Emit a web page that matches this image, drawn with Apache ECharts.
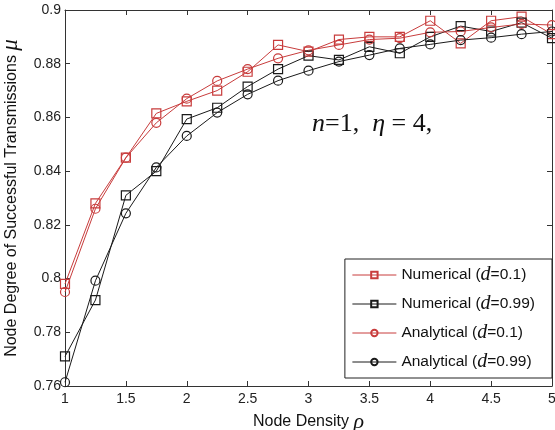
<!DOCTYPE html>
<html><head><meta charset="utf-8">
<script src="https://cdn.jsdelivr.net/npm/echarts@6/dist/echarts.min.js"></script>
<style>html,body{margin:0;padding:0;background:#fff}#c{width:555px;height:430px}</style>
</head><body><div id="c"></div>
<script>
var xValues = [1,1.25,1.5,1.75,2,2.25,2.5,2.75,3,3.25,3.5,3.75,4,4.25,4.5,4.75,5];
var numD01 = [0.798,0.828,0.845,0.8615,0.866,0.870,0.877,0.887,0.8845,0.889,0.890,0.890,0.896,0.8876,0.896,0.8975,0.891];
var numD099 = [0.771,0.792,0.831,0.840,0.8594,0.8636,0.8715,0.878,0.883,0.8814,0.8863,0.8839,0.890,0.894,0.892,0.8953,0.8895];
var anaD01 = [0.795,0.826,0.845,0.858,0.867,0.8736,0.878,0.882,0.885,0.887,0.889,0.8895,0.8917,0.892,0.8935,0.8948,0.8944];
var anaD099 = [0.7614,0.7992,0.8243,0.8414,0.8531,0.8618,0.8686,0.8737,0.8774,0.8808,0.8832,0.8857,0.8872,0.8888,0.8897,0.891,0.892];
var seriesNames = ['Numerical (d=0.1)','Numerical (d=0.99)','Analytical (d=0.1)','Analytical (d=0.99)'];
var xTicks = [1,1.5,2,2.5,3,3.5,4,4.5,5];
var yTicks = [0.76,0.78,0.8,0.82,0.84,0.86,0.88,0.9];

var RED = '#c83c3c', BLK = '#1a1a1a', AX = '#333';
function pairs(ys){ return xValues.map(function(x,i){ return [x, ys[i]]; }); }
function mk(name, ys, color, sym){
  return {
    name: name, type: 'line', data: pairs(ys), xAxisIndex: 0, yAxisIndex: 0,
    symbol: sym, symbolSize: 9, showSymbol: true,
    lineStyle: {color: color, width: 1},
    itemStyle: {color: 'rgba(255,255,255,0)', borderColor: color, borderWidth: 1.2},
    emphasis: {disabled: true}, animation: false, z: 3
  };
}
var fontSans = 'Arial, "Liberation Sans", Helvetica, sans-serif';
var fontSerif = '"Times New Roman", "Liberation Serif", serif';

var chart = echarts.init(document.getElementById('c'), null, {renderer: 'canvas'});
chart.setOption({
  animation: false,
  backgroundColor: '#fff',
  grid: {left: 65, right: 3, top: 10, bottom: 44, containLabel: false, outerBoundsMode: 'none'},
  xAxis: [{
    type: 'value', min: 1, max: 5, interval: 0.5, position: 'bottom',
    axisLine: {show: true, lineStyle: {color: AX, width: 1}},
    axisTick: {show: true, inside: true, length: 5, lineStyle: {color: AX}},
    axisLabel: {color: '#222', fontFamily: fontSans, fontSize: 14, margin: 6,
      formatter: function(v){ return String(v); }},
    splitLine: {show: false},
    name: '{t|Node Density }{g|ρ}', nameLocation: 'middle', nameGap: 21,
    nameTextStyle: {rich: {t: {fontFamily: fontSans, fontSize: 16, color: '#111'},
      g: {fontFamily: fontSerif, fontStyle: 'italic', fontSize: 22, color: '#111'}}}
  },{
    type: 'value', min: 1, max: 5, interval: 0.5, position: 'top',
    axisLine: {show: true, lineStyle: {color: AX, width: 1}},
    axisTick: {show: true, inside: true, length: 5, lineStyle: {color: AX}},
    axisLabel: {show: false}, splitLine: {show: false}
  }],
  yAxis: [{
    type: 'value', min: 0.76, max: 0.9, interval: 0.02, position: 'left',
    axisLine: {show: true, lineStyle: {color: AX, width: 1}},
    axisTick: {show: true, inside: true, length: 5, lineStyle: {color: AX}},
    axisLabel: {color: '#222', fontFamily: fontSans, fontSize: 14, margin: 4,
      formatter: function(v){ return String(+v.toFixed(2)); }},
    splitLine: {show: false},
    name: '{t|Node Degree of Successful Transmissions }{g|μ}', nameLocation: 'middle', nameGap: 40,
    nameRotate: 90,
    nameTextStyle: {rich: {t: {fontFamily: fontSans, fontSize: 16, color: '#111'},
      g: {fontFamily: fontSerif, fontStyle: 'italic', fontSize: 23, color: '#111'}}}
  },{
    type: 'value', min: 0.76, max: 0.9, interval: 0.02, position: 'right',
    axisLine: {show: true, lineStyle: {color: AX, width: 1}},
    axisTick: {show: true, inside: true, length: 5, lineStyle: {color: AX}},
    axisLabel: {show: false}, splitLine: {show: false}
  }],
  legend: {
    data: seriesNames, orient: 'vertical', right: 3, top: 259,
    backgroundColor: '#fff', borderColor: '#222', borderWidth: 1,
    padding: [6, 17, 6, 7], itemGap: 9, itemWidth: 44, itemHeight: 8,
    selectedMode: false,
    lineStyle: {width: 1},
    formatter: function(n){
      var m = n.match(/^(\w+) \(d(=[\d.]+)\)$/);
      return '{a|' + m[1] + ' (}{d|d}{a|' + m[2] + ')}';
    },
    textStyle: {rich: {
      a: {fontFamily: fontSans, fontSize: 15.5, color: '#111'},
      d: {fontFamily: fontSerif, fontStyle: 'italic', fontSize: 20, color: '#111'}
    }}
  },
  graphic: [{
    type: 'text', left: 312, top: 111, z: 10,
    style: {text: '{i|n}{r|=1,  }{i|η}{r| = 4,}', rich: {
      i: {fontFamily: fontSerif, fontStyle: 'italic', fontSize: 26, fill: '#111'},
      r: {fontFamily: fontSerif, fontSize: 26, fill: '#111'}
    }}
  }],
  series: [
    mk(seriesNames[0], numD01, RED, 'rect'),
    mk(seriesNames[1], numD099, BLK, 'rect'),
    mk(seriesNames[2], anaD01, RED, 'circle'),
    mk(seriesNames[3], anaD099, BLK, 'circle')
  ]
});
</script>
</body></html>
